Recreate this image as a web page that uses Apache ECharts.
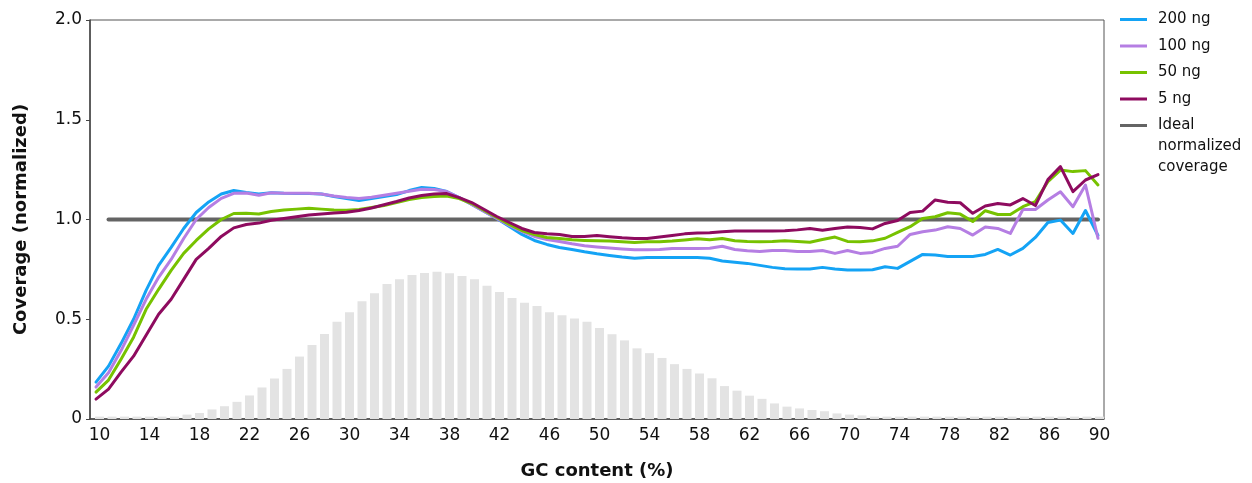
<!DOCTYPE html>
<html><head><meta charset="utf-8">
<script src="https://cdn.jsdelivr.net/npm/echarts@6/dist/echarts.min.js"></script>
<style>html,body{margin:0;padding:0;background:#fff}#c{width:1252px;height:483px}</style>
</head><body><div id="c"></div>
<script>
const gcContent = [10,11,12,13,14,15,16,17,18,19,20,21,22,23,24,25,26,27,28,29,30,31,32,33,34,35,36,37,38,39,40,41,42,43,44,45,46,47,48,49,50,51,52,53,54,55,56,57,58,59,60,61,62,63,64,65,66,67,68,69,70,71,72,73,74,75,76,77,78,79,80,81,82,83,84,85,86,87,88,89,90];
const xTickLabels = [10,14,18,22,26,30,34,38,42,46,50,54,58,62,66,70,74,78,82,86,90];
const seriesNames = ['200 ng','100 ng','50 ng','5 ng','Ideal normalized coverage'];

const cov200 = [0.185,0.265,0.378,0.5,0.645,0.77,0.86,0.955,1.035,1.088,1.128,1.145,1.135,1.128,1.134,1.131,1.13,1.13,1.128,1.115,1.105,1.095,1.105,1.115,1.125,1.145,1.16,1.155,1.14,1.11,1.075,1.04,1.005,0.965,0.925,0.895,0.875,0.86,0.85,0.838,0.828,0.82,0.812,0.806,0.81,0.81,0.81,0.81,0.81,0.806,0.792,0.786,0.78,0.77,0.76,0.753,0.752,0.752,0.76,0.752,0.747,0.747,0.748,0.763,0.755,0.79,0.825,0.822,0.815,0.814,0.815,0.825,0.85,0.822,0.855,0.91,0.985,0.997,0.93,1.045,0.92];
const cov100 = [0.16,0.232,0.343,0.47,0.6,0.71,0.8,0.905,1.0,1.06,1.106,1.131,1.133,1.122,1.134,1.132,1.131,1.131,1.128,1.118,1.11,1.105,1.112,1.122,1.132,1.142,1.152,1.15,1.14,1.11,1.075,1.04,1.005,0.97,0.94,0.915,0.9,0.89,0.878,0.868,0.862,0.857,0.852,0.848,0.848,0.85,0.855,0.855,0.855,0.856,0.866,0.85,0.843,0.84,0.845,0.845,0.84,0.84,0.845,0.83,0.845,0.83,0.835,0.855,0.866,0.925,0.939,0.947,0.964,0.955,0.922,0.962,0.955,0.93,1.05,1.05,1.098,1.139,1.064,1.173,0.906];
const cov50 = [0.135,0.195,0.3,0.41,0.55,0.65,0.745,0.83,0.895,0.953,1.0,1.03,1.031,1.028,1.04,1.048,1.052,1.056,1.052,1.048,1.046,1.05,1.06,1.07,1.085,1.1,1.11,1.115,1.118,1.105,1.08,1.045,1.01,0.975,0.945,0.925,0.91,0.905,0.898,0.895,0.893,0.892,0.889,0.885,0.888,0.889,0.892,0.897,0.903,0.898,0.905,0.893,0.89,0.889,0.89,0.893,0.89,0.886,0.9,0.912,0.89,0.889,0.893,0.906,0.935,0.964,1.005,1.014,1.034,1.027,0.99,1.044,1.025,1.025,1.064,1.09,1.19,1.248,1.24,1.245,1.173];
const cov5 = [0.1,0.15,0.235,0.315,0.42,0.525,0.6,0.7,0.8,0.855,0.915,0.958,0.975,0.982,0.996,1.005,1.014,1.022,1.028,1.032,1.036,1.045,1.058,1.074,1.09,1.108,1.12,1.128,1.13,1.11,1.085,1.05,1.015,0.985,0.955,0.935,0.928,0.925,0.915,0.915,0.92,0.914,0.908,0.905,0.905,0.912,0.92,0.928,0.932,0.934,0.938,0.942,0.942,0.942,0.942,0.944,0.948,0.955,0.946,0.955,0.962,0.96,0.953,0.98,0.995,1.035,1.042,1.098,1.086,1.084,1.031,1.068,1.08,1.073,1.105,1.07,1.2,1.265,1.14,1.198,1.225];
const gcDistribution = [0.012,0.012,0.012,0.012,0.012,0.012,0.012,0.022,0.03,0.048,0.064,0.086,0.118,0.158,0.203,0.251,0.313,0.371,0.426,0.488,0.535,0.59,0.63,0.677,0.7,0.722,0.732,0.738,0.73,0.717,0.7,0.668,0.637,0.607,0.583,0.566,0.535,0.52,0.504,0.488,0.456,0.425,0.394,0.354,0.33,0.306,0.275,0.251,0.228,0.204,0.165,0.142,0.117,0.101,0.078,0.062,0.053,0.045,0.039,0.028,0.022,0.018,0.012,0.012,0.012,0.012,0.012,0.012,0.012,0.012,0.012,0.012,0.012,0.012,0.012,0.012,0.012,0.012,0.012,0.012,0.012];
const idealGc = [11, 90];
const idealCoverage = [1.0, 1.0];

const colors = ['#14a3f5', '#b57ee3', '#77c200', '#8e0b5f', '#646464'];
const FONT = 'DejaVu Sans';

const pairs = (xs, ys) => xs.map((x, i) => [x, ys[i]]);
const covSets = [cov200, cov100, cov50, cov5];

const chart = echarts.init(document.getElementById('c'), null, {renderer: 'canvas'});

const lineSeries = covSets.map((d, i) => ({
  name: seriesNames[i], type: 'line', xAxisIndex: 1, data: pairs(gcContent, d),
  symbol: 'none', z: 4 + i,
  lineStyle: {color: colors[i], width: 3, join: 'round', cap: 'round'},
  itemStyle: {color: colors[i]}
}));

const legendText = {fontFamily: FONT, fontSize: 15, color: '#111', padding: [0, 0, 0, 6]};

chart.setOption({
  animation: false,
  backgroundColor: '#ffffff',
  grid: {left: 90, right: 148, top: 20, bottom: 64, show: true, borderColor: '#555', borderWidth: 1,
         containLabel: false, outerBoundsMode: 'none'},
  legend: [
    {orient: 'vertical', left: 1120, top: 12, padding: 0, icon: 'rect', itemWidth: 27, itemHeight: 3, itemGap: 11.5,
     selectedMode: false, data: seriesNames.slice(0, 4), textStyle: legendText},
    {orient: 'vertical', left: 1120, top: 73, padding: 0, icon: 'rect', itemWidth: 27, itemHeight: 3,
     selectedMode: false, data: [seriesNames[4]],
     formatter: () => '\n\nIdeal\nnormalized\ncoverage',
     textStyle: Object.assign({}, legendText, {lineHeight: 21})}
  ],
  xAxis: [{
    type: 'value', min: 9.24, max: 90.36,
    name: 'GC content (%)', nameLocation: 'middle', nameGap: 43,
    nameTextStyle: {fontFamily: FONT, fontSize: 18, fontWeight: 'bold', color: '#111'},
    axisLine: {show: true, lineStyle: {color: '#444', width: 1.5}},
    axisTick: {show: false},
    splitLine: {show: false},
    axisLabel: {customValues: xTickLabels, fontFamily: FONT, fontSize: 17, color: '#111', margin: 8}
  }, {
    type: 'value', min: 9.521, max: 90.479, show: false, splitLine: {show: false}
  }],
  yAxis: {
    type: 'value', min: 0, max: 2, interval: 0.5,
    name: 'Coverage (normalized)', nameLocation: 'middle', nameGap: 60, nameRotate: 90,
    nameTextStyle: {fontFamily: FONT, fontSize: 18, fontWeight: 'bold', color: '#111'},
    axisLine: {show: true, lineStyle: {color: '#444', width: 1.5}},
    axisTick: {show: true, length: 4, inside: false, lineStyle: {color: '#444'}},
    splitLine: {show: false},
    axisLabel: {fontFamily: FONT, fontSize: 17, color: '#111', margin: 8,
      formatter: v => v === 0 ? '0' : v.toFixed(1)}
  },
  series: [
    {type: 'bar', name: 'GC distribution', data: pairs(gcContent, gcDistribution),
     barWidth: 9, itemStyle: {color: '#e3e3e3'}, z: 1, silent: true},
    {name: seriesNames[4], type: 'line', xAxisIndex: 1, data: pairs(idealGc, idealCoverage), symbol: 'none', z: 3,
     lineStyle: {color: colors[4], width: 4, cap: 'round'}, itemStyle: {color: colors[4]}},
    ...lineSeries
  ]
});
</script></body></html>
